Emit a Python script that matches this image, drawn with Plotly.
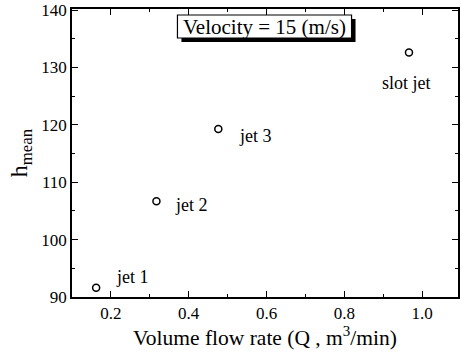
import plotly.graph_objects as go

flow_rate = [0.162, 0.317, 0.476, 0.966]
h_mean = [91.6, 106.7, 119.3, 132.6]
labels = ["jet 1", "jet 2", "jet 3", "slot jet"]
x_ticks = [0.2, 0.4, 0.6, 0.8, 1.0]
x_tick_text = ["0.2", "0.4", "0.6", "0.8", "1.0"]
y_ticks = [90, 100, 110, 120, 130, 140]

FONT = "Times New Roman, Liberation Serif, serif"

fig = go.Figure()
fig.add_trace(go.Scatter(
    x=flow_rate, y=h_mean, mode="markers",
    marker=dict(symbol="circle-open", size=7, color="black", line=dict(width=1.5)),
    showlegend=False, hoverinfo="skip",
))

# point labels (pixel offsets from each point)
offsets = [(36, 11), (35, -4), (37, -7), (-2, -30)]
for x, y, t, (dx, dy) in zip(flow_rate, h_mean, labels, offsets):
    fig.add_annotation(x=x, y=y, text=t, showarrow=False, xshift=dx, yshift=dy,
                       xanchor="center", yanchor="middle",
                       font=dict(family=FONT, size=18, color="black"))

# Velocity box with shadow
fig.add_shape(type="rect", xref="paper", yref="paper",
              x0=(182 - 72) / 388, x1=(357 - 72) / 388,
              y0=(297 - 42) / 288, y1=(297 - 19) / 288,
              fillcolor="black", line=dict(width=0), layer="above")
fig.add_shape(type="rect", xref="paper", yref="paper",
              x0=(178 - 72) / 388, x1=(353 - 72) / 388,
              y0=(297 - 38) / 288, y1=(297 - 15) / 288,
              fillcolor="white", line=dict(color="black", width=1.2), layer="above")
fig.add_annotation(xref="paper", yref="paper",
                   x=(265 - 72) / 388, y=(297 - 27) / 288,
                   xanchor="center", yanchor="middle",
                   text="Velocity = 15 (m/s)", showarrow=False,
                   font=dict(family=FONT, size=21, color="black"))

axis_common = dict(
    showline=True, linecolor="black", linewidth=1.5, mirror="ticks",
    ticks="inside", ticklen=6, tickwidth=1.2, tickcolor="black",
    showgrid=False, zeroline=False,
    tickfont=dict(family=FONT, size=17, color="black"),
)

fig.update_xaxes(
    range=[0.1, 1.092], tickvals=x_ticks, ticktext=x_tick_text,
    minor=dict(dtick=0.1, ticks="inside", ticklen=3, tickcolor="black", showgrid=False),
    title=dict(text="Volume flow rate (Q , m<sup>3</sup>/min)",
               font=dict(family=FONT, size=21.5, color="black"), standoff=5),
    **axis_common,
)
fig.update_yaxes(
    range=[90, 140.2], tickvals=y_ticks,
    minor=dict(dtick=5, ticks="inside", ticklen=3, tickcolor="black", showgrid=False),
    title=dict(text="h<sub>mean</sub>", font=dict(family=FONT, size=24, color="black"), standoff=7),
    **axis_common,
)

fig.update_layout(
    width=461, height=353,
    margin=dict(l=72, r=1, t=9, b=56),
    plot_bgcolor="white", paper_bgcolor="white",
    font=dict(family=FONT, color="black"),
)

fig.write_html("out.html")
